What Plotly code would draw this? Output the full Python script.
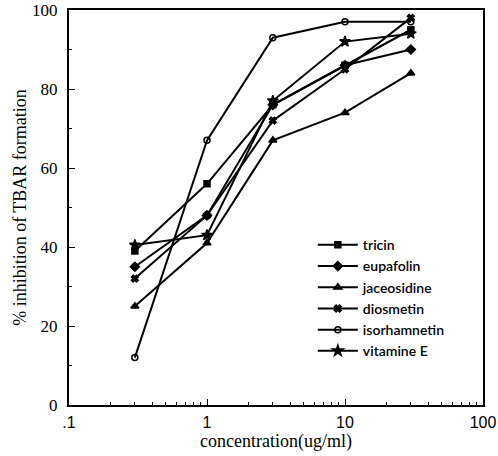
import plotly.graph_objects as go

conc = [0.3, 1, 3, 10, 30]
tricin = [39, 56, 76, 86, 95]
eupafolin = [35, 48, 76, 86, 90]
jaceosidine = [25, 41, 67, 74, 84]
diosmetin = [32, 48, 72, 85, 98]
isorhamnetin = [12, 67, 93, 97, 97]
vitamine_e = [40.5, 43, 77, 92, 94]

series = [
    ("tricin", tricin, "square", 6),
    ("eupafolin", eupafolin, "diamond", 7),
    ("jaceosidine", jaceosidine, "triangle-up", 7),
    ("diosmetin", diosmetin, "x", 6),
    ("isorhamnetin", isorhamnetin, "circle-open", 6),
    ("vitamine E", vitamine_e, "star", 8),
]

x_tickvals = [0.1, 1, 10, 100]
x_ticktext = [".1", "1", "10", "100"]
x_minor = [m * d for d in (0.1, 1, 10) for m in range(2, 10)]

fig = go.Figure()
for name, vals, sym, size in series:
    fig.add_trace(go.Scatter(
        x=conc, y=vals, name=name, mode="lines+markers",
        line=dict(color="black", width=2),
        marker=dict(symbol=sym, size=size, color="black",
                    line=dict(color="black", width=1.5)),
    ))

fig.update_layout(
    width=498, height=456,
    margin=dict(l=69, r=15, t=10, b=51),
    paper_bgcolor="white", plot_bgcolor="white",
    showlegend=True,
    legend=dict(x=0.589, y=0.445, xanchor="left", yanchor="top",
                font=dict(family="Lato", size=14, color="black", weight=600),
                bgcolor="rgba(0,0,0,0)", itemwidth=40, tracegroupgap=0),
    font=dict(family="Liberation Serif", color="black"),
)
fig.update_xaxes(
    type="log", range=[-1, 2], automargin=False, ticklabeloverflow="allow",
    tickvals=x_tickvals, ticktext=x_ticktext,
    tickfont=dict(family="Liberation Sans", size=16, color="black"),
    ticks="inside", ticklen=6, tickcolor="black", ticklabelstandoff=2,
    minor=dict(tickvals=x_minor, ticks="inside", ticklen=3, tickcolor="black", showgrid=False),
    showline=True, linecolor="black", linewidth=2, mirror=True,
    showgrid=False, zeroline=False,
    title=dict(text="concentration(ug/ml)", font=dict(family="Liberation Serif", size=18, color="black"), standoff=4),
)
fig.update_yaxes(
    range=[0, 100], tickvals=[0, 20, 40, 60, 80, 100], automargin=False, ticklabeloverflow="allow",
    tickfont=dict(family="Liberation Serif", size=17, color="black"),
    ticks="inside", ticklen=6, tickcolor="black", ticklabelstandoff=6,
    minor=dict(dtick=10, ticks="inside", ticklen=3, tickcolor="black", showgrid=False),
    showline=True, linecolor="black", linewidth=2, mirror=True,
    showgrid=False, zeroline=False,
    title=dict(text="% inhibition of TBAR formation", font=dict(family="Liberation Serif", size=18, color="black"), standoff=1),
)

fig.write_html("out.html", config={"displayModeBar": False},
               post_script="document.body.style.margin='0';document.body.style.overflow='hidden';")
